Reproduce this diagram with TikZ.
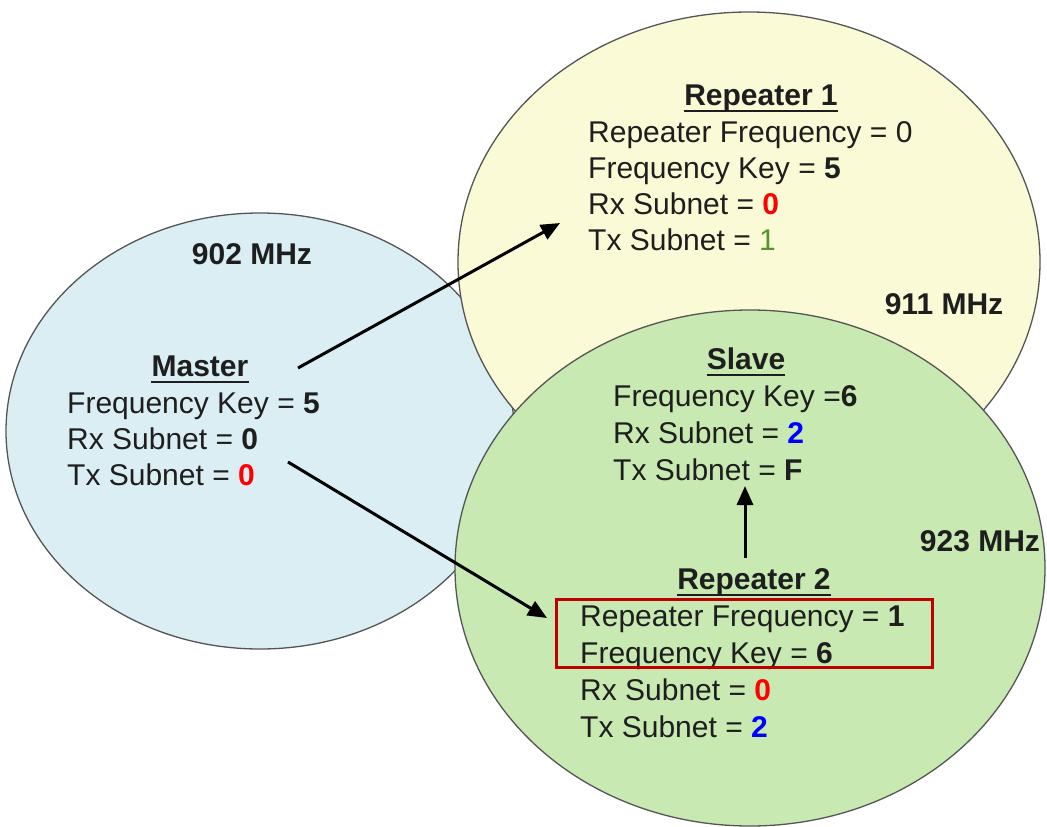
\documentclass[tikz,border=0pt]{standalone}
\usepackage{fontspec}
\setmainfont{Liberation Sans}
\usetikzlibrary{arrows.meta}
\definecolor{blueF}{RGB}{218,238,243}
\definecolor{yellowF}{RGB}{250,250,215}
\definecolor{greenF}{RGB}{200,233,178}
\definecolor{edgeC}{RGB}{85,85,85}
\definecolor{boxred}{RGB}{192,0,0}
\definecolor{valred}{RGB}{255,0,0}
\definecolor{valgreen}{RGB}{80,150,40}
\definecolor{valblue}{RGB}{0,0,255}
\definecolor{txt}{RGB}{30,30,30}
\begin{document}
\begin{tikzpicture}[x=1pt,y=-1pt,
  zone/.style={draw=edgeC,line width=1.3pt},
  line/.style={inner sep=0pt,anchor=base west,text=txt,font=\fontsize{30}{36}\selectfont},
  title/.style={inner sep=0pt,anchor=base,text=txt,font=\fontsize{30}{36}\selectfont\bfseries},
  freq/.style={inner sep=0pt,anchor=base,text=txt,font=\fontsize{30}{36}\selectfont\bfseries},
  ul/.style={line width=2.6pt,draw=txt},
  link/.style={line width=3pt,-{Triangle[length=19pt,width=16pt]}},
  redbox/.style={draw=boxred,line width=3pt}]
\useasboundingbox (0,0) rectangle (1047,827);
% zones
\draw[zone,fill=blueF] (260,431) ellipse [x radius=254pt,y radius=218pt];
\draw[zone,fill=yellowF] (749,262) ellipse [x radius=291pt,y radius=250pt];
\draw[zone,fill=greenF] (750,568) ellipse [x radius=295pt,y radius=258pt];
% frequencies
\node[freq] (f902) at (252,264) {902 MHz};
\node[freq] (f911) at (944,314) {911 MHz};
\node[freq] (f923) at (980,551) {923 MHz};
% Master
\node[title] (mt) at (200,376) {Master};
\draw[ul] ([yshift=-6pt]mt.base west) -- ([yshift=-6pt]mt.base east);
\node[line] (m1) at (67,413) {Frequency Key = \textbf{5}};
\node[line] (m2) at (67,449) {Rx Subnet = \textbf{0}};
\node[line] (m3) at (67,485) {Tx Subnet = \textcolor{valred}{\textbf{0}}};
% Repeater 1
\node[title] (r1t) at (761,105) {Repeater 1};
\draw[ul] ([yshift=-6pt]r1t.base west) -- ([yshift=-6pt]r1t.base east);
\node[line] (r11) at (588,142) {Repeater Frequency = 0};
\node[line] (r12) at (588,178) {Frequency Key = \textbf{5}};
\node[line] (r13) at (588,214) {Rx Subnet = \textcolor{valred}{\textbf{0}}};
\node[line] (r14) at (588,250) {Tx Subnet = \textcolor{valgreen}{1}};
% Slave
\node[title] (st) at (746,369) {Slave};
\draw[ul] ([yshift=-6pt]st.base west) -- ([yshift=-6pt]st.base east);
\node[line] (s1) at (613,406) {Frequency Key =\textbf{6}};
\node[line] (s2) at (613,443) {Rx Subnet = \textcolor{valblue}{\textbf{2}}};
\node[line] (s3) at (613,480) {Tx Subnet = \textbf{F}};
% Repeater 2
\node[title] (r2t) at (754,589) {Repeater 2};
\draw[ul] ([yshift=-6pt]r2t.base west) -- ([yshift=-6pt]r2t.base east);
\node[line] (r21) at (580,626) {Repeater Frequency = \textbf{1}};
\node[line] (r22) at (580,663) {Frequency Key = \textbf{6}};
\node[line] (r23) at (580,700) {Rx Subnet = \textcolor{valred}{\textbf{0}}};
\node[line] (r24) at (580,737) {Tx Subnet = \textcolor{valblue}{\textbf{2}}};
\draw[redbox] (556,599) rectangle (932,667);
% connector ends
\coordinate (a1s) at (298,368);
\coordinate (a1e) at (560,223);
\coordinate (a2s) at (288,462);
\coordinate (a2e) at (547,618);
\coordinate (a3s) at (745,558);
\coordinate (a3e) at (745,486);
\draw[link] (a1s) -- (a1e);
\draw[link] (a2s) -- (a2e);
\draw[link] (a3s) -- (a3e);
\end{tikzpicture}
\end{document}
